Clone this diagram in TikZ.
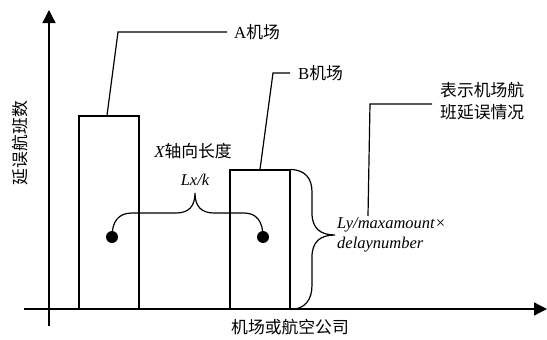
\documentclass[tikz,border=0pt]{standalone}
\usepackage{fontspec}
\setmainfont{Liberation Serif}
\newfontfamily\cjk{Noto Sans CJK SC}
\usetikzlibrary{arrows.meta}
\newcommand{\lat}[1]{{\fontspec{Liberation Serif}#1}}
\begin{document}
\begin{tikzpicture}[x=1pt,y=-1pt,
  ln/.style={line width=1.2pt},
  ax/.style={line width=1.3pt,-{Triangle[width=13pt,length=13pt]}},
  bar/.style={draw,line width=1.2pt,inner sep=0pt,minimum width=60pt},
  dotn/.style={circle,fill,inner sep=0pt,minimum size=12pt},
  cn/.style={font=\cjk\fontsize{16.8}{22}\selectfont,inner sep=0pt},
  it/.style={font=\itshape\fontsize{16.5}{20}\selectfont,inner sep=0pt}]
\useasboundingbox (0,0) rectangle (547,340);
% axes
\coordinate (yb) at (49,326);
\coordinate (yt) at (49,10);
\coordinate (xl) at (24,309);
\coordinate (xr) at (547,309);
\draw[ax] (yb) -- (yt);
\draw[ax] (xl) -- (xr);
% bars
\node[bar,minimum height=193pt] (A) at (109,212.5) {};
\node[bar,minimum height=139pt] (B) at (260,239.5) {};
% labels
\node[cn,anchor=west] (la) at (234,32) {\lat{A}机场};
\node[cn,anchor=west] (lb) at (298,73) {\lat{B}机场};
\node[cn,anchor=west,align=left] (lc) at (440,101) {表示机场航\\班延误情况};
\node[cn,rotate=90] (ly) at (20,143) {延误航班数};
\node[cn] (lx) at (290,327) {机场或航空公司};
\node[cn] (xlen) at (193,151) {{\itshape\fontspec{Liberation Serif}X}轴向长度};
\node[it] (lxk) at (195,180) {Lx/k};
\node[it,anchor=west,align=left] (lyf) at (337,235) {Ly/maxamount×\\delaynumber};
% leaders
\coordinate (ca1) at (118,32);
\draw[ln] ([xshift=-2pt]A.north) -- (ca1) -- ([xshift=-7pt]la.west);
\coordinate (cb1) at (273,73);
\draw[ln] (B.north) -- (cb1) -- ([xshift=-8pt]lb.west);
\coordinate (cc0) at (368,216);
\coordinate (cc1) at (370,104);
\draw[ln] (cc0) -- (cc1) -- ([xshift=-8pt]lc.west |- cc1);
% dots and horizontal brace
\node[dotn] (d1) at (112,237) {};
\node[dotn] (d2) at (263,237) {};
\draw[ln] (d1.center) .. controls (112,222) and (118,213) .. (132,213) -- (176,213)
  .. controls (189,213) and (195,206) .. (195,193)
  .. controls (195,206) and (201,213) .. (214,213) -- (244,213)
  .. controls (257,213) and (263,222) .. (d2.center);
% vertical brace
\draw[ln] (B.north east) .. controls (305,170) and (312,178) .. (312,192) -- (312,213)
  .. controls (312,228) and (320,235) .. (335,235)
  .. controls (320,235) and (312,242) .. (312,257) -- (312,285)
  .. controls (312,300) and (305,309) .. (B.south east);
\end{tikzpicture}
\end{document}
